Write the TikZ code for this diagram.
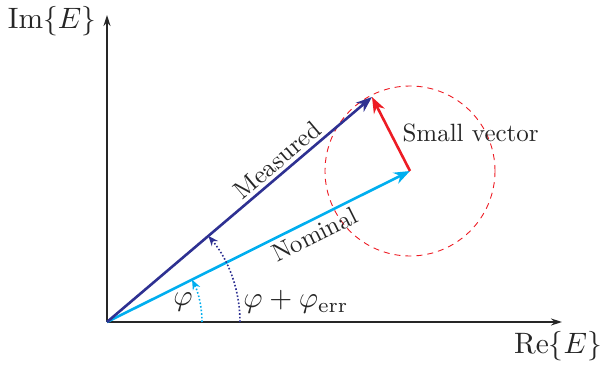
\documentclass[tikz,border=0pt]{standalone}
\usepackage{graphicx}
\usetikzlibrary{arrows.meta,calc}
\definecolor{nomc}{RGB}{0,174,239}
\definecolor{meac}{RGB}{46,49,146}
\definecolor{smc}{RGB}{237,28,36}
\newcommand{\tlab}[1]{\scalebox{2.5}{#1}}
\newcommand{\mlab}[1]{\scalebox{2.95}{$#1$}}
\begin{document}
\begin{tikzpicture}[x=1pt,y=1pt,
  lbl/.style={text=black!85},
  mlbl/.style={text=black!85, inner sep=1pt},
  axis/.style={line width=1.6pt, black!85, -{Stealth[length=11pt,width=7pt]}},
  vec/.style={line width=2.6pt, -{Stealth[length=16pt,width=12pt]}},
  angarc/.style={line width=1.6pt, dotted, -{Stealth[length=10pt,width=8pt]}}]
\useasboundingbox (0,0) rectangle (603,365);
\coordinate (O) at (107,43);
\coordinate (ImTop) at (107,350);
\coordinate (ReEnd) at (562,43);
\coordinate (N) at (410,194);
\coordinate (M) at (372,268);
\draw[axis] (O) -- (ImTop);
\draw[axis] (O) -- (ReEnd);
\node[mlbl] (imlab) at (52,344) {\mlab{\mathrm{Im}\{E\}}};
\node[mlbl] (relab) at (558,19) {\mlab{\mathrm{Re}\{E\}}};
\draw[smc, line width=0.9pt, dash pattern=on 6pt off 5pt] (N) circle[radius=85];
\draw[vec, nomc] (O) -- node[lbl, sloped, below=1pt, pos=0.664] (nomlab) {\tlab{Nominal}} (N);
\draw[vec, meac] (O) -- node[lbl, sloped, above=0pt, pos=0.675] (mealab) {\tlab{Measured}} (M);
\draw[vec, smc] (N) -- (M);
\node[lbl, anchor=west] (smlab) at (399,232) {\tlab{Small vector}};
\draw[angarc, nomc] ($(O)+(95,0)$) arc[start angle=0, end angle=26.49, radius=95];
\draw[angarc, meac] ($(O)+(133,0)$) arc[start angle=0, end angle=40.33, radius=133];
\node[mlbl] (philab) at (183,63) {\mlab{\varphi}};
\node[mlbl] (phierrlab) at (296,63) {\mlab{\varphi+\varphi_{\mathrm{err}}}};
\end{tikzpicture}
\end{document}
